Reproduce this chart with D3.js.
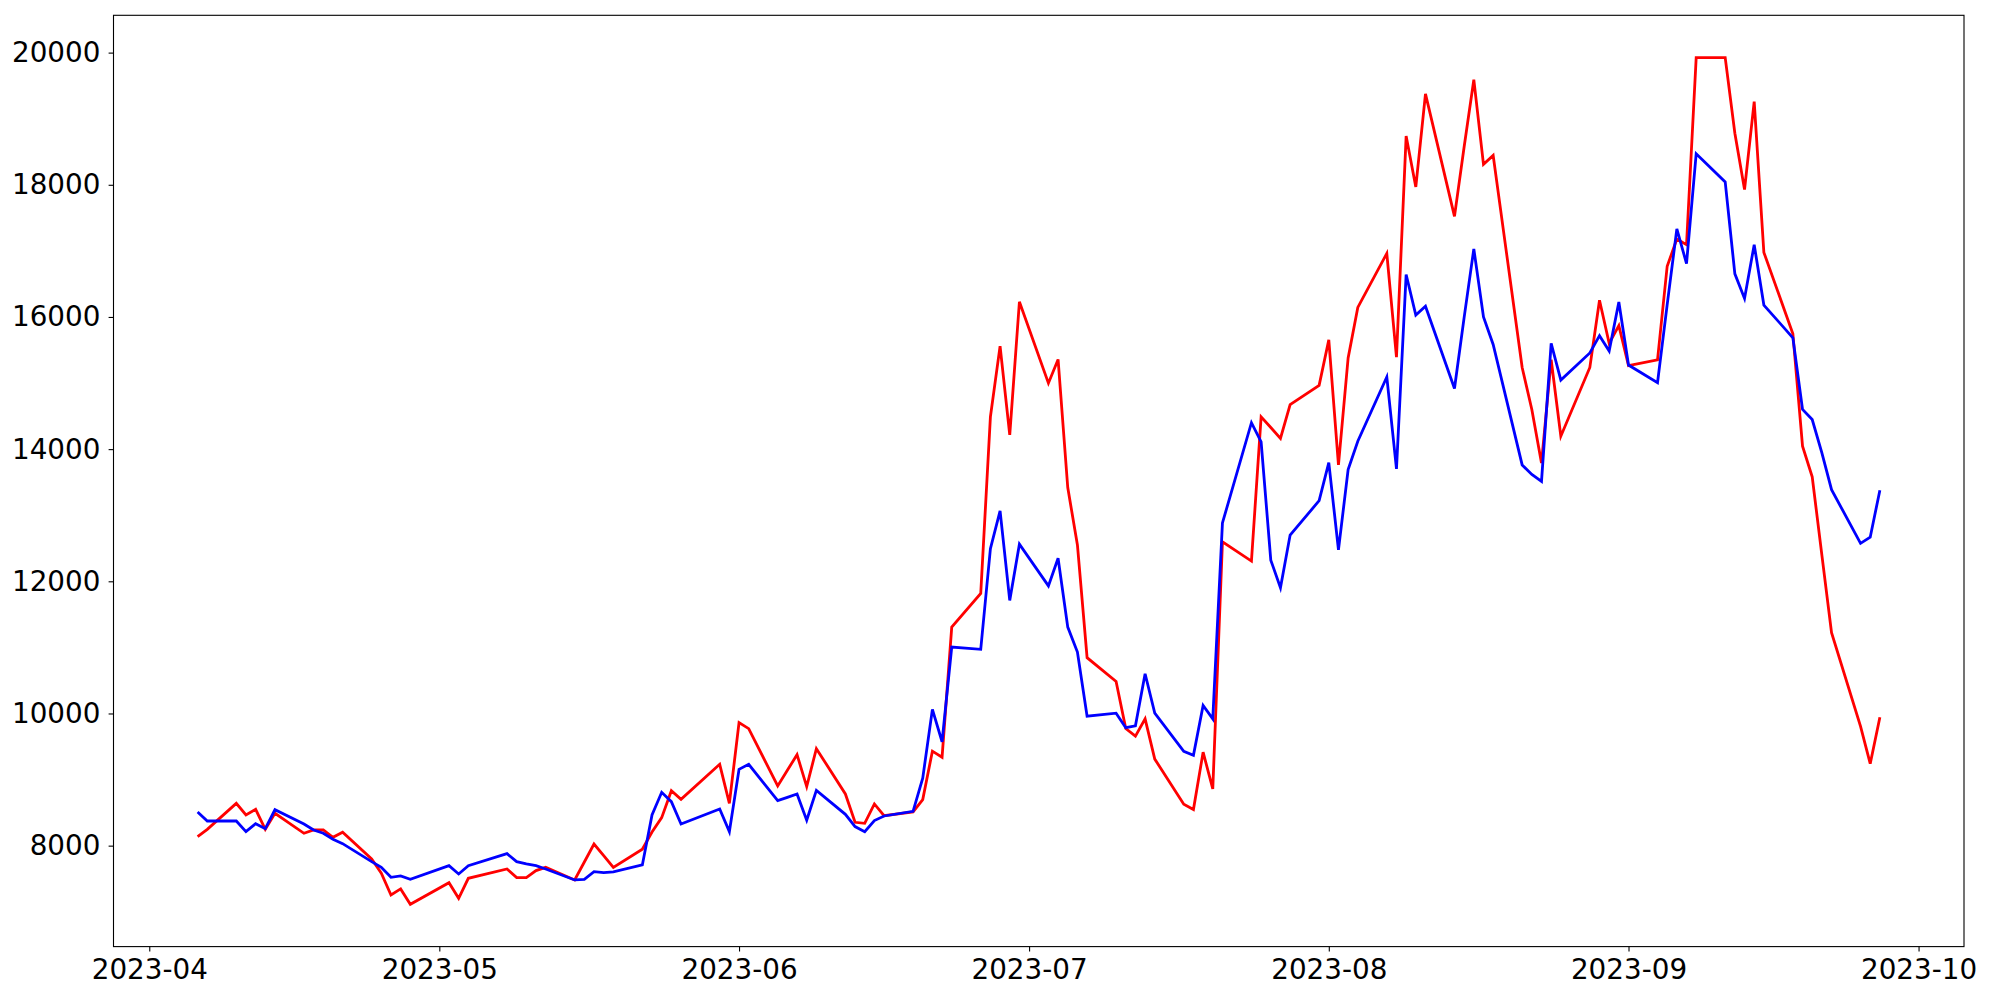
<!DOCTYPE html>
<html>
<head>
<meta charset="utf-8">
<script src="https://cdn.jsdelivr.net/npm/d3@7"></script>
<style>
  html, body { margin: 0; padding: 0; background: #fff; }
  svg { display: block; }
  text { font-family: "DejaVu Sans", sans-serif; }
</style>
</head>
<body>
<svg id="chart" width="2000" height="1000"></svg>
<script>
const dates = [
  "2023-04-06","2023-04-07","2023-04-10","2023-04-11","2023-04-12","2023-04-13","2023-04-14",
  "2023-04-17","2023-04-18","2023-04-19","2023-04-20","2023-04-21",
  "2023-04-24","2023-04-25","2023-04-26","2023-04-27","2023-04-28",
  "2023-05-02","2023-05-03","2023-05-04",
  "2023-05-08","2023-05-09","2023-05-10","2023-05-11","2023-05-12",
  "2023-05-15","2023-05-16","2023-05-17","2023-05-18","2023-05-19",
  "2023-05-22","2023-05-23","2023-05-24","2023-05-25","2023-05-26",
  "2023-05-30","2023-05-31","2023-06-01","2023-06-02",
  "2023-06-05","2023-06-06","2023-06-07","2023-06-08","2023-06-09",
  "2023-06-12","2023-06-13","2023-06-14","2023-06-15","2023-06-16",
  "2023-06-19","2023-06-20","2023-06-21","2023-06-22","2023-06-23",
  "2023-06-26","2023-06-27","2023-06-28","2023-06-29","2023-06-30",
  "2023-07-03","2023-07-04","2023-07-05","2023-07-06","2023-07-07",
  "2023-07-10","2023-07-11","2023-07-12","2023-07-13","2023-07-14",
  "2023-07-17","2023-07-18","2023-07-19","2023-07-20","2023-07-21",
  "2023-07-24","2023-07-25","2023-07-26","2023-07-27","2023-07-28",
  "2023-07-31","2023-08-01","2023-08-02","2023-08-03","2023-08-04",
  "2023-08-07","2023-08-08","2023-08-09","2023-08-10","2023-08-11",
  "2023-08-14","2023-08-15","2023-08-16","2023-08-17","2023-08-18",
  "2023-08-21","2023-08-22","2023-08-23","2023-08-24","2023-08-25",
  "2023-08-28","2023-08-29","2023-08-30","2023-08-31","2023-09-01",
  "2023-09-04","2023-09-05","2023-09-06","2023-09-07","2023-09-08",
  "2023-09-11","2023-09-12","2023-09-13","2023-09-14","2023-09-15",
  "2023-09-18","2023-09-19","2023-09-20","2023-09-21","2023-09-22",
  "2023-09-25","2023-09-26","2023-09-27"
];

const seriesRed = [
  8136,8247,8640,8464,8550,8247,8489,
  8187,8237,8237,8126,8202,
  7798,7582,7254,7345,7113,
  7440,7203,7506,
  7647,7516,7516,7622,7672,
  7481,7753,8025,7849,7672,
  7945,8207,8424,8832,8701,
  9231,8641,9861,9770,
  8903,9140,9377,8893,9468,
  8782,8353,8338,8631,8454,
  8510,8697,9430,9338,11307,
  11816,14489,15559,14217,16230,
  14998,15357,13418,12550,10844,
  10485,9773,9657,9918,9310,
  8628,8547,9414,8859,12597,
  12306,14489,14328,14161,14675,
  14965,15653,13761,15381,16145,
  16961,15393,18737,17967,19375,
  17522,18575,19590,18310,18445,
  15236,14600,13790,15352,14195,
  15236,16252,15601,15868,15262,
  15352,16768,17178,17093,19924,
  19924,18780,17928,19259,16977,
  15747,14044,13580,12397,11221,
  9805,9240,9944
];

const seriesBlue = [
  8509,8373,8373,8212,8333,8257,8544,
  8328,8237,8187,8096,8030,
  7758,7672,7521,7541,7491,
  7697,7571,7697,
  7879,7758,7723,7697,7647,
  7481,7491,7607,7592,7602,
  7708,8464,8807,8666,8328,
  8555,8212,9155,9231,
  8681,8731,8782,8384,8837,
  8474,8288,8212,8379,8449,
  8520,9020,10062,9572,11006,
  10971,12493,13065,11711,12562,
  11931,12348,11307,10930,9958,
  10005,9785,9814,10601,10005,
  9426,9368,10120,9918,12883,
  14400,14111,12321,11902,12699,
  13220,13795,12475,13690,14120,
  15092,13700,16643,16029,16162,
  14918,15994,17030,16000,15584,
  13761,13617,13512,15601,15046,
  15456,15717,15485,16225,15272,
  15004,16187,17333,16806,18470,
  18044,16652,16280,17093,16180,
  15685,14601,14447,13944,13387,
  12574,12667,13379
];

const xTickLabels = ["2023-04","2023-05","2023-06","2023-07","2023-08","2023-09","2023-10"];
const yTickValues = [8000, 10000, 12000, 14000, 16000, 18000, 20000];

// Layout
const W = 2000, H = 1000;
const plot = { left: 113.5, right: 1964, top: 15.3, bottom: 946.6 };
const fontSize = 27.8;

const parse = d3.utcParse("%Y-%m-%d");
const parseMonth = d3.utcParse("%Y-%m");
const xs = dates.map(parse);

const xExt = d3.extent(xs);
const xPad = (xExt[1] - xExt[0]) * 0.05;
const x = d3.scaleUtc()
  .domain([new Date(+xExt[0] - xPad), new Date(+xExt[1] + xPad)])
  .range([plot.left, plot.right]);

const allVals = seriesRed.concat(seriesBlue);
const yExt = d3.extent(allVals);
const yPad = (yExt[1] - yExt[0]) * 0.05;
const y = d3.scaleLinear()
  .domain([yExt[0] - yPad, yExt[1] + yPad])
  .range([plot.bottom, plot.top]);

const svg = d3.select("#chart");
svg.append("rect").attr("width", W).attr("height", H).attr("fill", "#fff");

const line = d3.line()
  .x((d, i) => x(xs[i]))
  .y(d => y(d));

const lines = svg.append("g");
lines.append("path")
  .datum(seriesRed)
  .attr("fill", "none")
  .attr("stroke", "#ff0000")
  .attr("stroke-width", 2.8)
  .attr("stroke-linejoin", "miter")
  .attr("stroke-linecap", "butt")
  .attr("d", line);
lines.append("path")
  .datum(seriesBlue)
  .attr("fill", "none")
  .attr("stroke", "#0000ff")
  .attr("stroke-width", 2.8)
  .attr("stroke-linejoin", "miter")
  .attr("stroke-linecap", "butt")
  .attr("d", line);

// Axes
const xAxis = d3.axisBottom(x)
  .tickValues(xTickLabels.map(parseMonth))
  .tickFormat(d3.utcFormat("%Y-%m"))
  .tickSize(4.9)
  .tickPadding(5);
const gx = svg.append("g")
  .attr("transform", `translate(0,${plot.bottom})`)
  .call(xAxis);
gx.select(".domain").remove();
gx.selectAll(".tick line").attr("stroke", "#000").attr("stroke-width", 1.1);
gx.selectAll(".tick text")
  .attr("fill", "#000")
  .attr("font-size", fontSize)
  .attr("font-family", "'DejaVu Sans', sans-serif")
  .attr("dy", null)
  .attr("y", 32.6);

const yAxis = d3.axisLeft(y)
  .tickValues(yTickValues)
  .tickFormat(d3.format("d"))
  .tickSize(4.9)
  .tickPadding(8.2);
const gy = svg.append("g")
  .attr("transform", `translate(${plot.left},0)`)
  .call(yAxis);
gy.select(".domain").remove();
gy.selectAll(".tick line").attr("stroke", "#000").attr("stroke-width", 1.1);
gy.selectAll(".tick text")
  .attr("fill", "#000")
  .attr("font-size", fontSize)
  .attr("font-family", "'DejaVu Sans', sans-serif");

// Frame
svg.append("rect")
  .attr("x", plot.left)
  .attr("y", plot.top)
  .attr("width", plot.right - plot.left)
  .attr("height", plot.bottom - plot.top)
  .attr("fill", "none")
  .attr("stroke", "#000")
  .attr("stroke-width", 1.1);
</script>
</body>
</html>
